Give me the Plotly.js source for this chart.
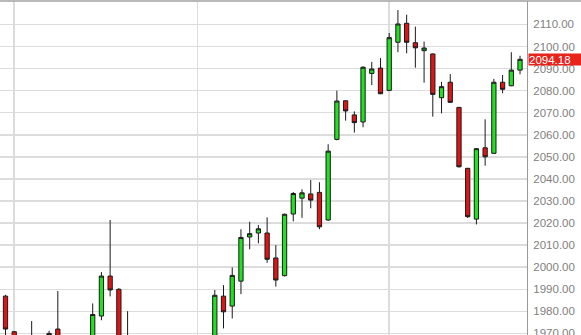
<!DOCTYPE html>
<html>
<head>
<meta charset="utf-8">
<script src="https://cdn.plot.ly/plotly-3.0.1.min.js"></script>
<style>html,body{margin:0;padding:0;background:#fff;}#chart{width:581px;height:335px;}</style>
</head>
<body>
<div id="chart"></div>
<script>
// Candle index (trading days)
const dayIndex = [0,1,2,3,4,5,6,7,8,9,10,11,12,13,14,15,16,17,18,19,20,21,22,23,24,25,26,27,28,29,30,31,32,33,34,35,36,37,38,39,40,41,42,43,44,45,46,47,48,49,50,51,52,53,54,55,56,57,58,59];
const openVals = [1986.9,1970.8,1962,1958,1965,1962,1972.0,1964,1953,1957,1962,1977.9,1996.0,1990.0,1965,1950,1944,1948,1941,1935,1947,1956,1951,1959,1962,1986.9,1982.4,1993.7,2013.7,2015.5,2015.5,2004.2,1996.2,2024.1,2031.3,2033.2,2033.9,2021.4,2057.9,2075.4,2069.0,2065.8,2087.8,2090.2,2080.1,2101.9,2110.5,2101.7,2098.1,2096.6,2076.8,2083.8,2072.4,2044.8,2021.8,2054.1,2051.6,2083.8,2082.2,2089.3];
const highVals = [1987.5,1971.0,1966,1975.6,1968,1971.2,1989.2,1967,1960,1966,1983.6,1997.8,2021.4,1990.5,1980.1,1958,1952,1956,1947,1950,1960,1964,1962,1966,1989.7,1991.9,1999.9,2017.2,2020.6,2019.1,2022.6,2010.0,2024.3,2034.1,2035.3,2039.5,2038.5,2055.7,2080.0,2075.6,2070.6,2091.0,2093.0,2094.8,2106.1,2116.5,2114.4,2109.0,2102.2,2096.8,2084.0,2087.5,2072.6,2045.0,2054.0,2067.0,2085.3,2087.1,2097.4,2095.8];
const lowVals = [1967,1958,1950,1954,1955,1958,1960,1950,1945,1952,1959,1976.0,1986.8,1960,1946,1940,1935,1938,1930,1932,1943,1948,1946,1952,1960,1972.3,1976.8,1987.8,2008.1,2010.8,2002.0,1991.2,1995.8,2020.8,2022.4,2026.7,2017.2,2021.0,2057.5,2066.4,2061.0,2063.4,2082.5,2078.4,2079.8,2097.4,2096.9,2090.4,2083.6,2068.2,2069.7,2074.5,2045.2,2022.3,2019.4,2046.0,2051.3,2078.8,2082.0,2087.4];
const closeVals = [1972.0,1962,1955,1966,1960,1970.0,1964,1953,1957,1962,1978.6,1996.0,1989.7,1965,1950,1944,1948,1941,1935,1947,1956,1951,1959,1963,1987.3,1979.8,1996.3,2013.5,2015.2,2017.4,2003.6,1994.2,2024.0,2033.4,2033.7,2030.4,2018.3,2052.6,2075.3,2070.8,2065.5,2090.6,2089.8,2078.6,2104.0,2110.2,2101.9,2099.4,2099.3,2078.3,2081.8,2074.7,2045.5,2022.9,2053.7,2050.0,2083.8,2080.6,2089.3,2094.18];
const monthStarts = [1,22,44];
const lastPrice = 2094.18;
const yTicks = [1970,1980,1990,2000,2010,2020,2030,2040,2050,2060,2070,2080,2090,2100,2110];

const trace = {
  type: 'candlestick',
  x: dayIndex, open: openVals, high: highVals, low: lowVals, close: closeVals,
  increasing: {line: {color: '#1a1a1a', width: 1}, fillcolor: '#22e022'},
  decreasing: {line: {color: '#1a1a1a', width: 1}, fillcolor: '#e01414'},
  hoverinfo: 'none', showlegend: false
};

const layout = {
  width: 581, height: 335,
  margin: {l: 0, r: 54, t: 1, b: 0, pad: 0},
  paper_bgcolor: '#fff', plot_bgcolor: '#fff',
  font: {family: '"Liberation Sans", Arial, sans-serif', size: 11.5, color: '#808080'},
  xaxis: {
    range: [-0.63, 59.8], tickvals: monthStarts, showticklabels: false, ticks: '',
    showgrid: true, gridcolor: '#dcdcdc', gridwidth: 1.5, zeroline: false,
    rangeslider: {visible: false}, showline: false, fixedrange: true
  },
  yaxis: {
    side: 'right', range: [1969.3, 2120.6], tickvals: yTicks, tickformat: '.2f',
    showgrid: true, gridcolor: '#dcdcdc', gridwidth: 1.5, zeroline: false,
    showline: true, linecolor: '#9a9a9a', linewidth: 1, ticks: '', ticklabelstandoff: 3,
    ticklabeloverflow: 'allow',
    tickfont: {color: '#808080', size: 11.5}, fixedrange: true
  },
  shapes: [{
    type: 'line', xref: 'paper', yref: 'paper', x0: 0, x1: 581/527, y0: 1.0, y1: 1.0,
    line: {color: '#a0a0a0', width: 1.5}
  }],
  annotations: [{
    xref: 'paper', yref: 'y', x: 1, y: lastPrice, xanchor: 'left', yanchor: 'middle',
    xshift: 1, text: lastPrice.toFixed(2), showarrow: false, align: 'left',
    bgcolor: '#e8231c', borderpad: 0, width: 53, height: 11,
    font: {color: '#ffffff', size: 11.5, family: '"Liberation Sans", Arial, sans-serif'}
  }]
};

Plotly.newPlot('chart', [trace], layout, {staticPlot: true, displayModeBar: false});
</script>
</body>
</html>
